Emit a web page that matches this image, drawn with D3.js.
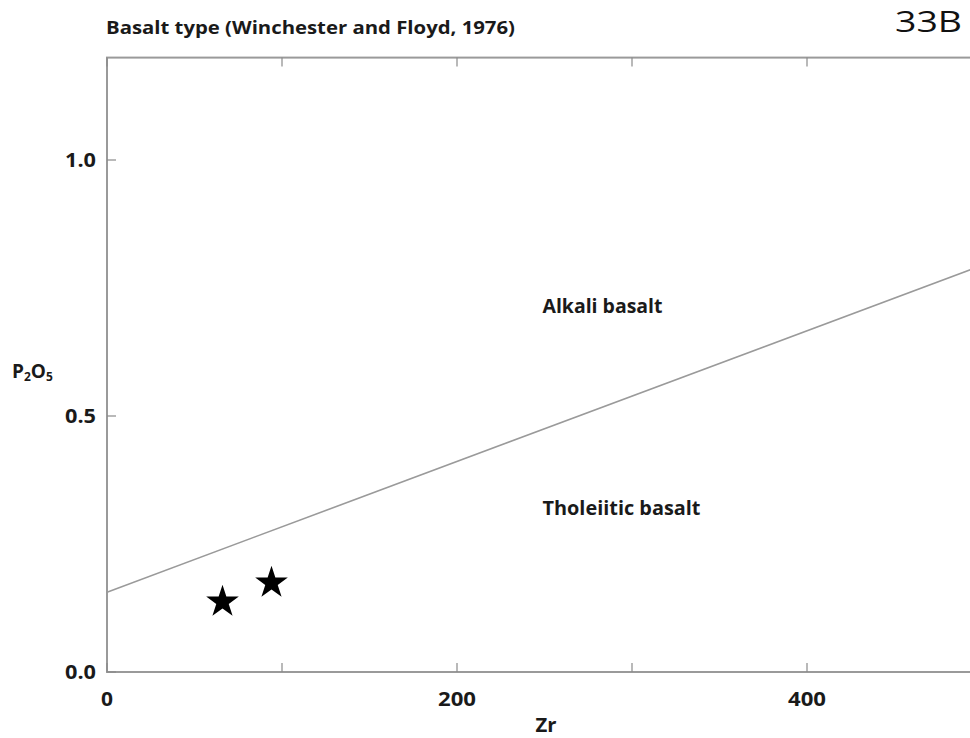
<!DOCTYPE html>
<html>
<head>
<meta charset="utf-8">
<script src="https://cdn.jsdelivr.net/npm/d3@7"></script>
<style>
  html, body { margin: 0; padding: 0; background: #fff; }
  svg { display: block; font-family: "Open Sans", "Liberation Sans", sans-serif; }
</style>
</head>
<body>
<svg id="chart" width="970" height="738"></svg>
<script>
// Winchester & Floyd (1976) Zr vs P2O5 discrimination diagram
const xTicks = [0, 100, 200, 300, 400, 500];
const xTickLabels = ["0", "", "200", "", "400", ""];
const yTicks = [0, 0.5, 1.0];
const yTickLabels = ["0.0", "0.5", "1.0"];

// Boundary between alkali and tholeiitic basalt fields (Zr, P2O5)
const boundaryZr = [0, 500];
const boundaryP2O5 = [0.156, 0.794];

// Samples
const sampleZr = [66, 94];
const sampleP2O5 = [0.137, 0.174];

const fieldNames = ["Alkali basalt", "Tholeiitic basalt"];
const fieldZr = [250, 250];
const fieldP2O5 = [0.715, 0.32];
const fieldWidths = [120, 158];

const svg = d3.select("#chart");
const x = d3.scaleLinear().domain([0, 500]).range([107, 982]);
const y = d3.scaleLinear().domain([0, 1.2]).range([672, 57.6]);

const frameColor = "#9a9a9a";
const tickColor = "#8a8a8a";
const ink = "#1a1a1a";

// Text label fitted to a set width
function label(xp, yp, txt, size, width, anchor) {
  return svg.append("text")
    .attr("x", xp).attr("y", yp)
    .attr("text-anchor", anchor || "start")
    .attr("font-size", size).attr("font-weight", 700)
    .attr("textLength", width).attr("lengthAdjust", "spacingAndGlyphs")
    .attr("fill", ink)
    .text(txt);
}

// Title and panel tag
label(106, 34, "Basalt type (Winchester and Floyd, 1976)", 18, 409);
svg.append("text")
  .attr("x", 895).attr("y", 32)
  .attr("font-size", 29)
  .attr("textLength", 67).attr("lengthAdjust", "spacingAndGlyphs")
  .attr("fill", "#111")
  .text("33B");

// Plot frame
svg.append("rect")
  .attr("x", x(0)).attr("y", y(1.2))
  .attr("width", x(500) - x(0)).attr("height", y(0) - y(1.2))
  .attr("fill", "none").attr("stroke", frameColor).attr("stroke-width", 2);

// Inward ticks on all four sides
const tl = 9;
const g = svg.append("g").attr("stroke", tickColor).attr("stroke-width", 1.2);
xTicks.forEach(v => {
  g.append("line").attr("x1", x(v)).attr("x2", x(v)).attr("y1", y(0)).attr("y2", y(0) - tl);
  g.append("line").attr("x1", x(v)).attr("x2", x(v)).attr("y1", y(1.2)).attr("y2", y(1.2) + tl);
});
yTicks.forEach(v => {
  g.append("line").attr("x1", x(0)).attr("x2", x(0) + tl).attr("y1", y(v)).attr("y2", y(v));
  g.append("line").attr("x1", x(500)).attr("x2", x(500) - tl).attr("y1", y(v)).attr("y2", y(v));
});

// Tick labels
xTicks.forEach((v, i) => {
  const t = xTickLabels[i];
  if (!t) return;
  label(x(v), 706, t, 19, t.length === 1 ? 12 : 38, "middle");
});
yTicks.forEach((v, i) => {
  label(96, y(v) + 7, yTickLabels[i], 19, 31, "end");
});

// Axis titles
label(546, 732, "Zr", 19, 21, "middle");
const yl = svg.append("text")
  .attr("x", 12).attr("y", 378)
  .attr("font-size", 19).attr("font-weight", 700)
  .attr("fill", ink);
yl.append("tspan").text("P");
yl.append("tspan").attr("font-size", 12).attr("dy", 3).text("2");
yl.append("tspan").attr("dy", -3).text("O");
yl.append("tspan").attr("font-size", 12).attr("dy", 3).text("5");

// Field boundary
const line = d3.line().x(d => x(d[0])).y(d => y(d[1]));
svg.append("path")
  .datum(boundaryZr.map((z, i) => [z, boundaryP2O5[i]]))
  .attr("d", line)
  .attr("fill", "none").attr("stroke", "#9a9a9a").attr("stroke-width", 1.6);

// Field names
fieldNames.forEach((n, i) => {
  label(x(fieldZr[i]) - 2, y(fieldP2O5[i]) + 7, n, 19, fieldWidths[i]);
});

// Sample points as stars
const star = d3.symbol().type(d3.symbolStar).size(330);
svg.append("g").selectAll("path")
  .data(sampleZr.map((z, i) => [z, sampleP2O5[i]]))
  .join("path")
  .attr("d", star)
  .attr("transform", d => `translate(${x(d[0])},${y(d[1])})`)
  .attr("fill", "#000");
</script>
</body>
</html>
